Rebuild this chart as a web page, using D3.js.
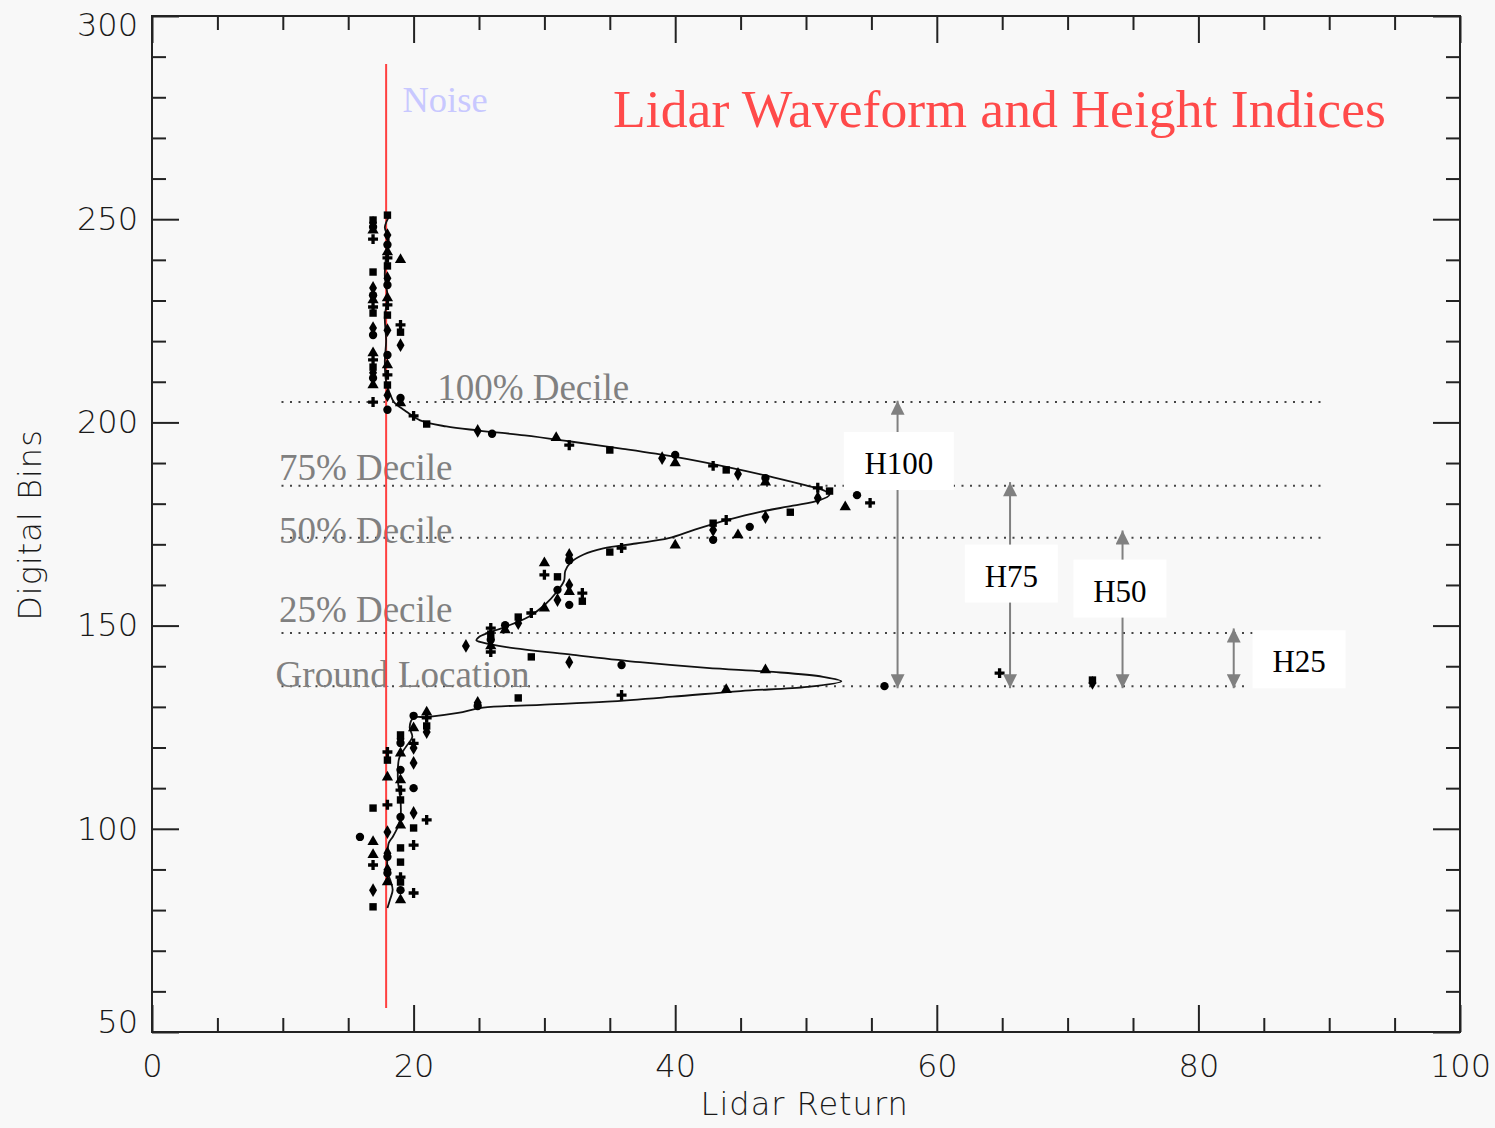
<!DOCTYPE html>
<html>
<head>
<meta charset="utf-8">
<script src="https://cdn.jsdelivr.net/npm/d3@7"></script>
<style>
  body { margin: 0; background: #f8f8f8; }
  svg { display: block; }
  .axis path { display: none; }
  .axis line { stroke: #222; stroke-width: 2; }
  .axis text { font-family: "DejaVu Sans", sans-serif; font-size: 32px; fill: #1a1a1a; font-weight: 200; }
</style>
</head>
<body>
<div id="chart"></div>
<script>
// lidar waveform chart

// tick values
var xMajorTicks = [0, 20, 40, 60, 80, 100];
var xMinorTicks = [5, 10, 15, 25, 30, 35, 45, 50, 55, 65, 70, 75, 85, 90, 95];
var yMajorTicks = [50, 100, 150, 200, 250, 300];
var yMinorTicks = [60, 70, 80, 90, 110, 120, 130, 140, 160, 170, 180, 190, 210, 220, 230, 240, 260, 270, 280, 290];

// fitted waveform (lidar return, digital bin)
var curveReturn = [18.2, 17.8, 18.1, 17.9, 17.8, 18.0, 17.8, 17.9, 17.8, 17.9, 18.2, 18.5, 19.3, 20.5, 22.5, 25, 28.5, 32, 36, 40, 44, 47.5, 50, 51.4, 51.8, 51, 49, 46.5, 44, 41.5, 39.5, 37, 34.5, 33, 32, 31.6, 31.5, 31, 30, 28.8, 27, 25.8, 25, 24.8, 25.3, 27.1, 32.2, 37.3, 42.4, 47.5, 51.3, 52.7, 50.1, 45, 39.8, 34.8, 29.7, 25.3, 23.4, 21.0, 20.0, 19.7, 19.9, 19.4, 18.9, 18.8, 19.0, 19.0, 18.8, 18.4, 18.1, 18.0, 18.0, 18.2, 18.4, 18.2, 18.0];
var curveBin = [251, 248, 245, 241, 236, 231, 226, 220, 215, 210, 207, 205, 203, 200.5, 199, 198, 196.8, 195.3, 193.5, 191.5, 189, 186.5, 184.5, 183.2, 182.2, 180.8, 179.5, 178, 176, 173.6, 171.5, 170.2, 169, 167.5, 165.5, 163.5, 161, 158.5, 155, 152.2, 149.7, 148.3, 147.2, 146.4, 145.8, 144.7, 142.8, 141.0, 139.6, 138.6, 137.4, 136.3, 134.9, 133.9, 132.5, 131.3, 130.5, 129.8, 128.5, 127.5, 127.3, 125.0, 122.6, 120.1, 117.4, 112.0, 107.1, 102.9, 100.5, 98.0, 96.5, 93.1, 89.2, 87.5, 85.0, 82.6, 80.5];

// measured samples (lidar return, digital bin)
var pointReturn = [
  16.9, 16.9, 16.9, 16.9, 16.9, 16.9, 16.9, 16.9, 16.9, 16.9, 16.9, 16.9, 16.9, 16.9, 16.9, 16.9, 16.9, 16.9, 16.9, 16.9,
  18.0, 18.0, 18.0, 18.0, 18.0, 18.0, 18.0, 18.0, 18.0, 18.0, 18.0, 18.0, 18.0, 18.0, 18.0, 18.0, 18.0, 18.0,
  19.0, 19.0, 19.0, 19.0, 19.0, 19.0,
  20.0, 21.0, 24.9, 26.0, 30.9, 31.9, 35.0, 39.0, 40.0, 40.0, 42.9, 43.9, 44.8, 46.9, 46.9, 50.9, 51.8, 50.9, 53.9, 53.0, 54.9,
  48.8, 46.9, 45.7, 44.8, 43.9, 42.9, 42.9, 42.9, 40.0, 35.9, 35.0, 31.9, 31.9, 30.0, 30.0, 31.0, 31.9, 31.0, 31.9, 32.9, 32.9, 31.0, 31.9, 30.0, 29.0, 28.0, 28.0, 27.0, 27.0, 25.9, 25.9, 24.0, 25.9, 25.9, 25.9,
  29.0, 31.9, 35.9, 46.9, 64.8, 71.9, 71.9, 56.0, 43.9, 35.9, 28.0, 24.9, 24.9,
  21.0, 21.0, 21.0, 21.0, 20.0, 20.0, 20.0, 19.0, 19.0, 19.0, 19.0, 18.0, 18.0, 20.0, 19.0, 19.0, 19.0, 19.0, 20.0, 20.0, 18.0, 18.0, 16.9,
  20.0, 19.0, 19.0, 21.0, 20.0, 18.0, 15.9, 16.9, 20.0, 19.0, 18.0, 18.0, 16.9, 16.9, 19.0, 18.0, 18.0, 18.0, 19.0, 19.0, 16.9, 19.0, 19.0, 20.0, 16.9
];
var pointBin = [
  249.8, 249.1, 248.1, 247.3, 245.1, 237.0, 233.1, 231.3, 230.1, 228.4, 226.9, 223.2, 221.5, 217.1, 215.4, 213.6, 212.2, 210.9, 209.2, 205.0,
  251.0, 246.1, 243.7, 241.9, 240.5, 238.5, 235.5, 233.8, 230.6, 228.9, 226.4, 222.7, 216.6, 214.1, 211.7, 209.2, 206.7, 203.1,
  240.0, 224.0, 222.2, 219.0, 206.0, 204.8,
  201.6, 199.6, 197.9, 197.2, 196.2, 194.4, 193.2, 191.2, 192.0, 190.0, 189.3, 188.3, 187.3, 186.3, 185.3, 183.9, 183.1, 181.4, 182.1, 179.2, 180.2,
  177.9, 176.7, 174.3, 172.3, 176.0, 175.2, 173.5, 171.1, 169.8, 169.1, 168.1, 167.4, 166.1, 165.4, 162.5, 162.0, 160.0, 158.8, 158.3, 158.0, 156.0, 156.3, 155.1, 154.3, 153.1, 152.1, 150.6, 150.1, 148.9, 149.4, 147.9, 145.0, 146.5, 145.0, 143.5,
  142.3, 141.0, 140.3, 139.1, 138.3, 136.6, 135.9, 135.1, 134.2, 132.9, 132.2, 131.0, 130.2,
  128.7, 127.3, 125.3, 123.8, 127.8, 124.8, 121.0, 123.1, 122.1, 121.1, 118.6, 118.9, 116.9, 119.9, 114.5, 112.0, 109.5, 107.1, 116.2, 110.0, 112.7, 105.9, 105.1,
  103.9, 102.9, 100.9, 102.2, 100.2, 99.2, 98.0, 96.8, 96.0, 95.3, 94.0, 93.1, 93.6, 91.1, 91.8, 89.9, 89.1, 86.9, 88.1, 86.9, 84.9, 84.9, 82.5, 84.2, 80.8
];

// noise level
var noiseReturn = 17.9;
var noiseBins = [55.9, 288.2];

// decile lines
var decileNames = ["100% Decile", "75% Decile", "50% Decile", "25% Decile", "Ground Location"];
var decileBins = [205, 184.4, 171.6, 148.2, 135.1];
var decileEnd = [89.7, 89.7, 89.7, 89.7, 83.6];
var decileLabelX = [21.8, 9.7, 9.7, 9.7, 9.45];
var decileLabelY = [205.5, 185.8, 170.3, 150.9, 134.9];

// height indices
var hNames = ["H100", "H75", "H50", "H25"];
var hArrowX = [57.0, 65.6, 74.2, 82.7];
var hTop = [205.3, 185.3, 173.4, 149.3];
var hBottom = [134.6, 134.6, 134.6, 134.6];
var hBoxX = [57.1, 65.7, 74.0, 87.7];
var hBoxY = [190.5, 162.8, 159.1, 141.7];

var margin = {top: 16, right: 35, bottom: 96, left: 152},
    width = 1495 - margin.left - margin.right,
    height = 1128 - margin.top - margin.bottom;

var svg = d3.select("#chart").append("svg")
    .attr("width", 1495)
    .attr("height", 1128);

svg.append("rect").attr("width", 1495).attr("height", 1128).attr("fill", "#f8f8f8");

var g = svg.append("g").attr("transform", "translate(" + margin.left + "," + margin.top + ")");

var x = d3.scaleLinear().domain([0, 100]).range([0, width]);
var y = d3.scaleLinear().domain([50, 300]).range([height, 0]);

// axes, ticks point inwards on all four sides
g.append("g").attr("class", "axis")
    .attr("transform", "translate(0," + height + ")")
    .call(d3.axisBottom(x).tickValues(xMajorTicks).tickSize(-27).tickSizeOuter(0).tickPadding(22).tickFormat(d3.format("d")));
g.append("g").attr("class", "axis")
    .attr("transform", "translate(0," + height + ")")
    .call(d3.axisBottom(x).tickValues(xMinorTicks).tickSize(-14).tickSizeOuter(0).tickFormat(""));
g.append("g").attr("class", "axis")
    .call(d3.axisTop(x).tickValues(xMajorTicks).tickSize(-27).tickSizeOuter(0).tickFormat(""));
g.append("g").attr("class", "axis")
    .call(d3.axisTop(x).tickValues(xMinorTicks).tickSize(-14).tickSizeOuter(0).tickFormat(""));

var yAxisG = g.append("g").attr("class", "axis")
    .call(d3.axisLeft(y).tickValues(yMajorTicks).tickSize(-27).tickSizeOuter(0).tickPadding(14).tickFormat(d3.format("d")));
// end labels are kept inside the frame height
yAxisG.selectAll("text")
    .attr("dy", function(d) { return d == 300 ? "0.6em" : (d == 50 ? "0.0em" : "0.32em"); });
g.append("g").attr("class", "axis")
    .call(d3.axisLeft(y).tickValues(yMinorTicks).tickSize(-14).tickSizeOuter(0).tickFormat(""));
g.append("g").attr("class", "axis")
    .attr("transform", "translate(" + width + ",0)")
    .call(d3.axisRight(y).tickValues(yMajorTicks).tickSize(-27).tickSizeOuter(0).tickFormat(""));
g.append("g").attr("class", "axis")
    .attr("transform", "translate(" + width + ",0)")
    .call(d3.axisRight(y).tickValues(yMinorTicks).tickSize(-14).tickSizeOuter(0).tickFormat(""));

// frame
g.append("rect")
    .attr("width", width).attr("height", height)
    .attr("fill", "none").attr("stroke", "#222").attr("stroke-width", 2);

// axis titles
g.append("text")
    .attr("transform", "translate(" + (30 - margin.left) + "," + (525 - margin.top) + ") rotate(-90)")
    .attr("text-anchor", "middle").attr("dy", "0.35em")
    .style("font-family", "DejaVu Sans, sans-serif").style("font-size", "32px").style("font-weight", 200)
    .style("letter-spacing", "1px").attr("fill", "#1a1a1a")
    .text("Digital Bins");
g.append("text")
    .attr("x", x(49.9)).attr("y", height + 83)
    .attr("text-anchor", "middle")
    .style("font-family", "DejaVu Sans, sans-serif").style("font-size", "32px").style("font-weight", 200)
    .style("letter-spacing", "1px").attr("fill", "#1a1a1a")
    .text("Lidar Return");

// decile lines
decileBins.forEach(function(b, i) {
    g.append("line")
        .attr("x1", x(9.9)).attr("x2", x(decileEnd[i]))
        .attr("y1", y(b)).attr("y2", y(b))
        .attr("stroke", "#444").attr("stroke-width", 2)
        .attr("stroke-dasharray", "2,6.5");
});

// decile labels
decileNames.forEach(function(n, i) {
    g.append("text")
        .attr("x", x(decileLabelX[i])).attr("y", y(decileLabelY[i]))
        .style("font-family", "Liberation Serif, serif").style("font-size", "37px")
        .attr("fill", "#808080")
        .text(n);
});

// noise line
g.append("line")
    .attr("x1", x(noiseReturn)).attr("x2", x(noiseReturn))
    .attr("y1", y(noiseBins[0])).attr("y2", y(noiseBins[1]))
    .attr("stroke", "#ff4040").attr("stroke-width", 2);
g.append("text")
    .attr("x", x(19.15)).attr("y", y(276.4))
    .style("font-family", "Liberation Serif, serif").style("font-size", "36.5px")
    .attr("fill", "#c8c8ff")
    .text("Noise");

// title
g.append("text")
    .attr("x", 613 - margin.left).attr("y", 127 - margin.top)
    .style("font-family", "Liberation Serif, serif").style("font-size", "53.7px")
    .attr("fill", "#ff4a4a")
    .text("Lidar Waveform and Height Indices");

// waveform
var curve = curveReturn.map(function(d, i) { return [d, curveBin[i]]; });
var line = d3.line()
    .x(function(d) { return x(d[0]); })
    .y(function(d) { return y(d[1]); })
    .curve(d3.curveCatmullRom);
g.append("path")
    .datum(curve)
    .attr("d", line)
    .attr("fill", "none").attr("stroke", "#111").attr("stroke-width", 1.8);

// samples
var shapes = [d3.symbolSquare, d3.symbolDiamond, d3.symbolCircle, d3.symbolTriangle, d3.symbolCross];
var points = pointReturn.map(function(d, i) { return {r: d, b: pointBin[i]}; });
g.selectAll(".pt")
    .data(points)
    .enter()
    .append("path")
    .attr("class", "pt")
    .attr("transform", function(d) { return "translate(" + x(d.r) + "," + y(d.b) + ")"; })
    .attr("d", function(d, i) { return d3.symbol().type(shapes[i % shapes.length]).size(55)(); })
    .attr("fill", "#000");

// height index arrows
var defs = svg.append("defs");
defs.append("marker")
    .attr("id", "head")
    .attr("viewBox", "0 0 10 10")
    .attr("refX", 10).attr("refY", 5)
    .attr("markerWidth", 8).attr("markerHeight", 7)
    .attr("markerUnits", "strokeWidth")
    .attr("orient", "auto-start-reverse")
    .append("path").attr("d", "M0,0 L10,5 L0,10 z").attr("fill", "#808080");

hNames.forEach(function(n, i) {
    g.append("line")
        .attr("x1", x(hArrowX[i])).attr("x2", x(hArrowX[i]))
        .attr("y1", y(hTop[i])).attr("y2", y(hBottom[i]))
        .attr("stroke", "#808080").attr("stroke-width", 2)
        .attr("marker-start", "url(#head)")
        .attr("marker-end", "url(#head)");
});

hNames.forEach(function(n, i) {
    var bw = n.length > 3 ? 110 : 93;
    g.append("rect")
        .attr("x", x(hBoxX[i]) - bw / 2).attr("y", y(hBoxY[i]) - 29)
        .attr("width", bw).attr("height", 58)
        .attr("fill", "#fff");
    g.append("text")
        .attr("x", x(hBoxX[i])).attr("y", y(hBoxY[i]) + 13)
        .attr("text-anchor", "middle")
        .style("font-family", "Liberation Serif, serif").style("font-size", "31px")
        .attr("fill", "#000")
        .text(n);
});
</script>
</body>
</html>
